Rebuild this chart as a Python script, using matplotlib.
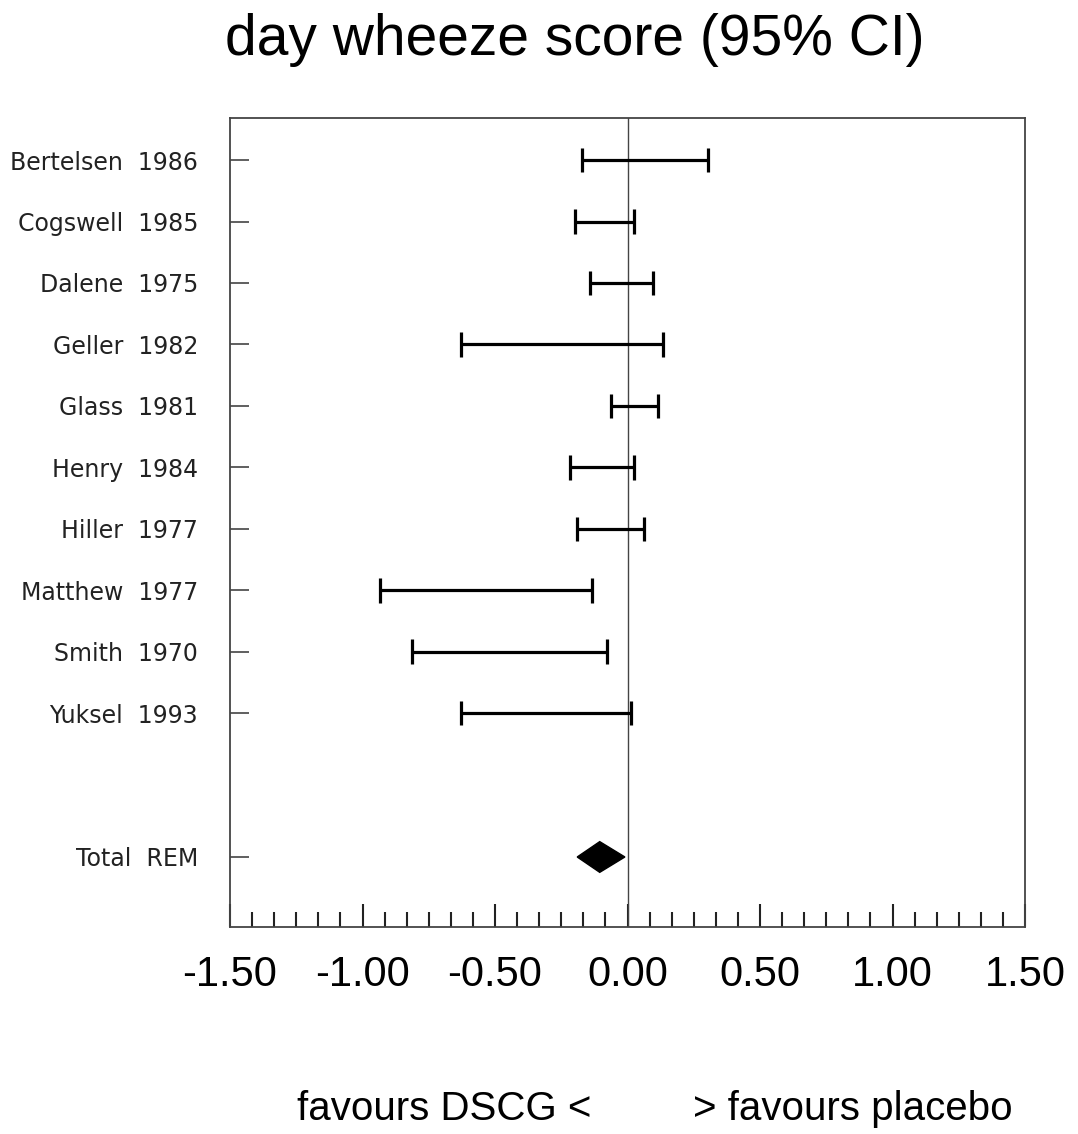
import numpy as np
import matplotlib
matplotlib.use("Agg")
import matplotlib.pyplot as plt
from matplotlib.ticker import MultipleLocator, FixedLocator

plt.rcParams['font.family'] = ['Liberation Sans', 'DejaVu Sans']

studies = ["Bertelsen  1986", "Cogswell  1985", "Dalene  1975", "Geller  1982",
           "Glass  1981", "Henry  1984", "Hiller  1977", "Matthew  1977",
           "Smith  1970", "Yuksel  1993"]
lower = [-0.172, -0.198, -0.142, -0.628, -0.062, -0.217, -0.191, -0.934, -0.814, -0.628]
upper = [0.304, 0.025, 0.096, 0.134, 0.115, 0.025, 0.062, -0.134, -0.077, 0.013]
total_label = "Total  REM"
total_low, total_mid, total_high = -0.19, -0.105, -0.01
xticks = [-1.5, -1.0, -0.5, 0.0, 0.5, 1.0, 1.5]
xticklabels = ["-1.50", "-1.00", "-0.50", "0.00", "0.50", "1.00", "1.50"]

fig = plt.figure(figsize=(10.78, 11.34), dpi=100)
ax = fig.add_axes([0.2134, 0.1825, 0.7375, 0.7134])

ypos = np.arange(len(studies), dtype=float)
ytotal = len(studies) - 1 + 2.34

for y, lo, hi in zip(ypos, lower, upper):
    ax.plot([lo, hi], [y, y], color='black', lw=2.3, solid_capstyle='butt', zorder=3)
    for xx in (lo, hi):
        ax.plot([xx, xx], [y - 0.2, y + 0.2], color='black', lw=2.3, solid_capstyle='butt', zorder=3)

dh = 0.25
ax.fill([total_low, total_mid, total_high, total_mid],
        [ytotal, ytotal - dh, ytotal, ytotal + dh], color='black', zorder=3)

ax.axvline(0, color='#444444', lw=1.0, zorder=2)

ax.set_xlim(-1.5, 1.5)
ax.set_ylim(12.48, -0.684)

ax.set_yticks(list(ypos) + [ytotal])
ax.set_yticklabels(studies + [total_label], fontsize=17, family='DejaVu Sans', color='#222222')
ax.tick_params(axis='y', direction='in', length=14, width=1.2, pad=23, color='#444444')

ax.xaxis.set_major_locator(FixedLocator(xticks))
ax.set_xticklabels(xticklabels, fontsize=30)
ax.xaxis.set_minor_locator(MultipleLocator(1/12))
ax.tick_params(axis='x', which='major', direction='in', length=16.5, width=1.5, pad=20, color='#222222')
ax.tick_params(axis='x', which='minor', direction='in', length=10.8, width=1.5, color='#222222')

for s in ax.spines.values():
    s.set_color('#444444')
    s.set_linewidth(1.3)

fig.text(0.5336, 0.965, "day wheeze score (95% CI)", fontsize=41, ha='center', va='center')
fig.text(0.549, 0.022, "favours DSCG <", fontsize=29, ha='right', va='center')
fig.text(0.643, 0.022, "> favours placebo", fontsize=29, ha='left', va='center')

fig.savefig("out.png", dpi=100)
